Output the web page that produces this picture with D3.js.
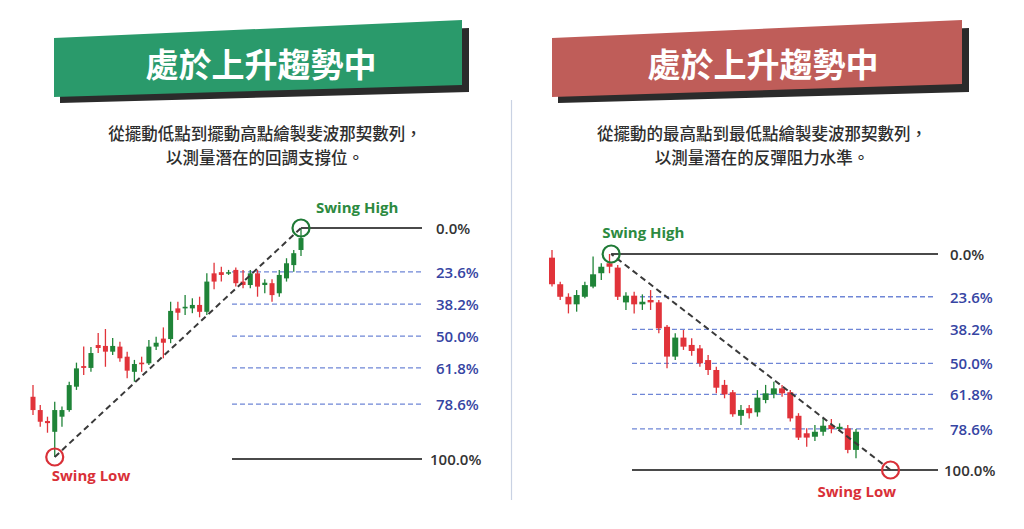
<!DOCTYPE html>
<html><head><meta charset="utf-8">
<script src="https://cdn.jsdelivr.net/npm/d3@7"></script>
<style>html,body{margin:0;padding:0;background:#fff;}svg{display:block;}</style>
</head><body><svg id="c" width="1024" height="529"></svg>
<script>
// ---------- DATA ----------
const titles = ["處於上升趨勢中", "處於上升趨勢中"];
const subtitlesLeft = ["從擺動低點到擺動高點繪製斐波那契數列，", "以測量潛在的回調支撐位。"];
const subtitlesRight = ["從擺動的最高點到最低點繪製斐波那契數列，", "以測量潛在的反彈阻力水準。"];
const fibLabels = ["0.0%", "23.6%", "38.2%", "50.0%", "61.8%", "78.6%", "100.0%"];
// level positions in the panel's price units (swing low = 0, swing high = 100)
const fibLevelsLeft = [100, 80.8, 66.8, 52.8, 38.9, 23.1, -0.9];
const fibLevelsRight = [100, 80.2, 65.1, 49.4, 35.0, 19.0, 0];
// candles: [open, close, high, low]
const candlesLeft = [
 [26.3,20.5,31.4,18.3],[20.5,15.4,22.7,13.2],[15.7,14.8,17.6,10.6],[11.0,20.5,24.1,0.0],
 [17.6,20.5,22.0,13.2],[20.5,31.4,32.9,19.8],[30.7,38.7,41.2,29.3],[39.7,38.9,48.2,35.8],
 [38.9,45.4,48.0,37.2],[48.9,47.6,54.1,45.4],[48.5,46.0,55.9,39.4],[46.0,48.5,52.0,44.5],
 [48.2,43.1,50.3,41.6],[43.8,37.7,46.0,34.4],[37.2,40.6,42.4,32.9],[41.2,40.5,43.8,37.2],
 [40.9,48.2,51.1,40.2],[48.2,49.9,52.5,46.7],[51.7,49.9,56.6,43.1],[51.5,63.8,67.8,49.7],
 [64.9,63.0,67.8,59.8],[64.9,65.6,70.7,62.0],[64.9,66.4,69.3,62.8],[66.4,63.4,70.0,61.0],
 [63.4,76.6,80.2,62.0],[80.2,76.6,84.8,73.2],[80.7,79.5,83.1,76.6],[80.2,80.7,81.7,79.5],
 [81.7,75.9,82.8,74.4],[76.6,75.1,81.7,73.7],[75.1,80.2,81.7,73.7],[80.2,74.4,81.7,70.0],
 [75.1,76.1,77.6,71.5],[75.9,70.7,77.6,67.8],[71.5,79.5,81.7,70.0],[78.0,84.6,86.8,76.6],
 [83.8,89.0,90.4,80.9],[90.4,95.6,100,87.8]
];
const candlesRight = [
 [98.3,86.0,101.9,84.9],[86.0,80.2,87.2,78.7],[80.2,76.7,81.8,72.5],[76.7,81.0,83.3,73.3],
 [80.2,85.6,87.2,79.5],[84.9,90.6,98.8,84.1],[91.1,94.1,95.7,88.0],[95.7,94.1,100,91.1],
 [93.7,80.2,94.9,78.7],[77.6,80.7,82.3,74.1],[80.7,76.7,82.5,72.5],[76.7,77.9,81.3,74.1],
 [78.7,77.6,83.3,74.1],[77.6,65.6,78.7,63.3],[66.3,52.5,67.1,47.1],[52.5,61.3,63.3,50.9],
 [61.3,57.1,64.8,55.6],[57.9,55.1,61.0,52.9],[56.3,49.4,57.9,47.8],[50.9,46.3,53.2,44.0],
 [46.3,38.1,47.8,35.5],[39.4,35.0,41.7,33.2],[36.0,25.8,37.0,24.7],[25.1,27.8,30.1,20.8],
 [28.6,26.3,30.1,23.9],[26.7,33.5,37.0,24.7],[32.4,35.5,39.4,30.9],[35.0,37.8,40.9,33.2],
 [37.8,35.5,39.4,33.9],[36.0,23.9,37.0,22.4],[25.1,15.0,26.3,13.9],[17.0,15.0,19.3,10.8],
 [15.4,17.7,20.8,13.4],[17.7,20.5,23.9,15.9],[20.8,19.0,23.6,17.0],[19.0,20.0,21.6,18.1],
 [19.3,9.3,20.8,7.7],[9.3,17.7,19.0,5.4]
];
// swing points: [candle index, price]
const swingLeft = {high:[37,100], low:[3,0]};
const swingRight = {high:[7.2,100], low:[41.2,0]};

// ---------- DRAW ----------
const svg = d3.select("#c");
const GREEN = "#1f8438", RED = "#e1333a", FIB = "#6f86d6", LABEL_BLUE = "#3645a3";

function banner(pts, shadowPts, color, title, cx, cy){
  svg.append("polygon").attr("points", shadowPts.map(p=>p.join(",")).join(" ")).attr("fill","#2b2b2b");
  svg.append("polygon").attr("points", pts.map(p=>p.join(",")).join(" ")).attr("fill",color);
  svg.append("text").attr("x",cx).attr("y",cy).attr("text-anchor","middle").attr("dominant-baseline","central")
    .attr("font-family","'Noto Sans CJK TC','Noto Sans CJK SC',sans-serif").attr("font-weight",700)
    .attr("font-size",33).attr("fill","#fff").text(title);
}
banner([[54,38],[462,20],[462,85],[54,97]],[[60,44],[469,28],[469,92],[60,103]],"#2a9a6b",titles[0],261,63);
banner([[552,38],[962,20],[962,84],[552,97]],[[558,44],[969,28],[969,92],[558,103]],"#bf5d59",titles[1],763,63);

// divider
svg.append("line").attr("x1",511.5).attr("x2",511.5).attr("y1",100).attr("y2",500).attr("stroke","#c9d2e3").attr("stroke-width",1.2);

function subtitle(lines, cx){
  svg.append("g").selectAll("text").data(lines).join("text")
    .attr("x",cx).attr("y",(d,i)=>133+i*24).attr("text-anchor","middle").attr("dominant-baseline","central")
    .attr("font-family","'Noto Sans CJK TC',sans-serif").attr("font-weight",500).attr("font-size",16.5).attr("fill","#2e2e2e").text(d=>d);
}
subtitle(subtitlesLeft,265);
subtitle(subtitlesRight,762);

function panel(cfg){
  const g = svg.append("g");
  const x = d3.scaleLinear().domain([0, cfg.candles.length-1]).range(cfg.xRange);
  const y = d3.scaleLinear().domain([0,100]).range(cfg.yRange);
  const levels = cfg.levels.map((v,i)=>({v, label: fibLabels[i], i}));
  g.selectAll("line.fib").data(levels).join("line")
    .attr("x1",d=> d.i===0 ? x(cfg.swing.high[0]) : cfg.fibX[0])
    .attr("x2",d=> (d.i===0||d.i===6) ? cfg.solidEnd : cfg.fibX[1])
    .attr("y1",d=>y(d.v)).attr("y2",d=>y(d.v))
    .attr("stroke",d=>(d.i===0||d.i===6)?"#4a4a4a":FIB)
    .attr("stroke-width",d=>(d.i===0||d.i===6)?2:1.3)
    .attr("stroke-dasharray",d=>(d.i===0||d.i===6)?null:"5,3");
  g.selectAll("text.fib").data(levels).join("text")
    .attr("x",d=>d.i===6 ? cfg.labelX-6 : cfg.labelX).attr("y",d=>y(d.v)).attr("dominant-baseline","central")
    .attr("font-family","'Open Sans',sans-serif").attr("font-weight",600).attr("font-size",15)
    .attr("fill",d=>(d.i===0||d.i===6)?"#333":LABEL_BLUE).text(d=>d.label);
  const cg = g.append("g");
  const bw = cfg.bodyW;
  const c = cg.selectAll("g").data(cfg.candles).join("g");
  c.append("line").attr("x1",(d,i)=>x(i)).attr("x2",(d,i)=>x(i))
    .attr("y1",d=>y(d[2])).attr("y2",d=>y(d[3]))
    .attr("stroke",d=>d[1]>=d[0]?GREEN:RED).attr("stroke-width",1.3);
  c.append("rect").attr("x",(d,i)=>x(i)-bw/2).attr("width",bw)
    .attr("y",d=>y(Math.max(d[0],d[1])))
    .attr("height",d=>Math.max(1.5, Math.abs(y(d[0])-y(d[1]))))
    .attr("fill",d=>d[1]>=d[0]?GREEN:RED);
  const hx = x(cfg.swing.high[0]), hy = y(cfg.swing.high[1]);
  const lx = x(cfg.swing.low[0]), ly = y(cfg.swing.low[1]);
  g.append("line").attr("x1",lx).attr("y1",ly).attr("x2",hx).attr("y2",hy)
    .attr("stroke","#3a3a3a").attr("stroke-width",2).attr("stroke-dasharray","6,4");
  g.append("circle").attr("cx",hx).attr("cy",hy).attr("r",8.5).attr("fill","none").attr("stroke","#1f7a36").attr("stroke-width",2.2);
  g.append("circle").attr("cx",lx).attr("cy",ly).attr("r",8.5).attr("fill","none").attr("stroke","#d93038").attr("stroke-width",2.2);
  g.append("text").attr("x",hx+cfg.highLabel[0]).attr("y",hy+cfg.highLabel[1]).attr("dominant-baseline","central")
    .attr("font-family","'Open Sans',sans-serif").attr("font-weight",700).attr("font-size",15).attr("fill","#2c8a40").text("Swing High");
  g.append("text").attr("x",lx+cfg.lowLabel[0]).attr("y",ly+cfg.lowLabel[1]).attr("dominant-baseline","central")
    .attr("font-family","'Open Sans',sans-serif").attr("font-weight",700).attr("font-size",15).attr("fill","#d93038").text("Swing Low");
}

panel({candles:candlesLeft, levels:fibLevelsLeft, swing:swingLeft,
  xRange:[33,301], yRange:[457,228], fibX:[232,422], solidEnd:422, labelX:436, bodyW:5,
  highLabel:[15,-21], lowLabel:[-3,18]});
panel({candles:candlesRight, levels:fibLevelsRight, swing:swingRight,
  xRange:[552,856], yRange:[470,254], fibX:[632,933], solidEnd:938, labelX:950, bodyW:6,
  highLabel:[-9,-22], lowLabel:[-73,21]});
</script></body></html>
